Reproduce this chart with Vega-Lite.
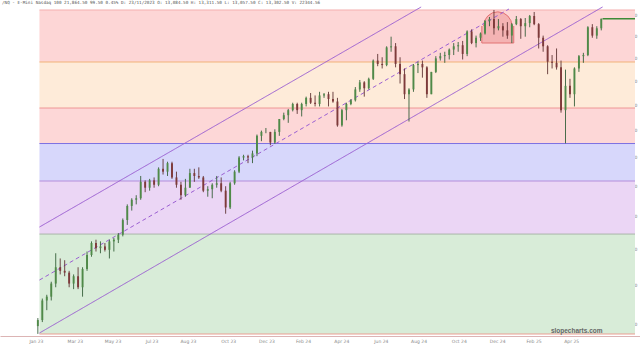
{
"$schema":"https://vega.github.io/schema/vega-lite/v6.json",
"width":640,"height":329,
"autosize":{"type":"none"},
"padding":{"top":7,"bottom":11,"left":0,"right":0},
"background":"#ffffff",
"config":{"view":{"stroke":null}},
"title":{"text":"/NQ - E-Mini Nasdaq 100 21,864.50 99.50 0.45% D: 23/11/2023 O: 13,084.50 H: 13,311.50 L: 13,057.50 C: 13,302.50 V: 22344.56","anchor":"start","frame":"group","fontSize":4.3,"font":"DejaVu Sans Mono","fontWeight":"normal","color":"#555555","offset":1,"dx":2},
"datasets":{
"bands":[
{"from":"2023-01-06T12:00:00Z","to":"2025-07-26T19:00:00Z","hi":22299,"lo":19837,"k":"a"},
{"from":"2023-01-06T12:00:00Z","to":"2025-07-26T19:00:00Z","hi":19837,"lo":17886,"k":"b"},
{"from":"2023-01-06T12:00:00Z","to":"2025-07-26T19:00:00Z","hi":17886,"lo":16513,"k":"c"},
{"from":"2023-01-06T12:00:00Z","to":"2025-07-26T19:00:00Z","hi":16513,"lo":15177,"k":"d"},
{"from":"2023-01-06T12:00:00Z","to":"2025-07-26T19:00:00Z","hi":15177,"lo":13470,"k":"e"},
{"from":"2023-01-06T12:00:00Z","to":"2025-07-26T19:00:00Z","hi":13470,"lo":10757,"k":"f"}
],
"levels":[
{"from":"2023-01-06T12:00:00Z","to":"2025-07-26T19:00:00Z","v":22299,"k":"l0"},
{"from":"2023-01-06T12:00:00Z","to":"2025-07-26T19:00:00Z","v":19837,"k":"l1"},
{"from":"2023-01-06T12:00:00Z","to":"2025-07-26T19:00:00Z","v":17886,"k":"l2"},
{"from":"2023-01-06T12:00:00Z","to":"2025-07-26T19:00:00Z","v":16513,"k":"l3"},
{"from":"2023-01-06T12:00:00Z","to":"2025-07-26T19:00:00Z","v":15177,"k":"l4"},
{"from":"2023-01-06T12:00:00Z","to":"2025-07-26T19:00:00Z","v":13470,"k":"l5"},
{"from":"2023-01-06T12:00:00Z","to":"2025-07-26T19:00:00Z","v":10757,"k":"l6"}
],
"dome":[{"d":"2024-12-24","p":21510}],
"hlrect":[{"from":"2024-11-29","to":"2025-01-18","hi":21510,"lo":20703}],
"segments":[
{"s":"hl","x1":"2024-11-29","x2":"2024-11-29","y1":20703,"y2":21510},
{"s":"hl","x1":"2025-01-18","x2":"2025-01-18","y1":20703,"y2":21510},
{"s":"hl","x1":"2024-11-29","x2":"2025-01-18","y1":20703,"y2":20703}
],
"channel":[
{"s":"upper","x1":"2023-01-06T12:00:00Z","y1":13684,"x2":"2024-08-26T00:00:00Z","y2":22450},
{"s":"lower","x1":"2023-01-06T12:00:00Z","y1":10781,"x2":"2025-06-06T00:00:00Z","y2":22450},
{"s":"mid","x1":"2023-01-06T12:00:00Z","y1":12146,"x2":"2025-01-10T12:00:00Z","y2":22349}
],
"last":[{"from":"2025-06-06","to":"2025-07-26T19:00:00Z","p":21864.5}],
"candles":[
{"d":"2023-01-04","o":10950,"h":11150,"l":10760,"c":11100},
{"d":"2023-01-11","o":11100,"h":11650,"l":11050,"c":11600},
{"d":"2023-01-18","o":11600,"h":11750,"l":11350,"c":11700},
{"d":"2023-01-25","o":11700,"h":12100,"l":11600,"c":12050},
{"d":"2023-02-01","o":12050,"h":12900,"l":11950,"c":12500},
{"d":"2023-02-08","o":12500,"h":12750,"l":12300,"c":12400},
{"d":"2023-02-15","o":12400,"h":12700,"l":12250,"c":12350},
{"d":"2023-02-22","o":12350,"h":12400,"l":11950,"c":12050},
{"d":"2023-03-01","o":12050,"h":12300,"l":11900,"c":12250},
{"d":"2023-03-08","o":12250,"h":12500,"l":11900,"c":11950},
{"d":"2023-03-15","o":11950,"h":12500,"l":11700,"c":12450},
{"d":"2023-03-22","o":12450,"h":12950,"l":12400,"c":12850},
{"d":"2023-03-29","o":12850,"h":13250,"l":12800,"c":13200},
{"d":"2023-04-05","o":13200,"h":13300,"l":12950,"c":13050},
{"d":"2023-04-12","o":13050,"h":13250,"l":12900,"c":13100},
{"d":"2023-04-19","o":13100,"h":13200,"l":12950,"c":13000},
{"d":"2023-04-26","o":13000,"h":13300,"l":12750,"c":13250},
{"d":"2023-05-03","o":13250,"h":13350,"l":12950,"c":13300},
{"d":"2023-05-10","o":13300,"h":13500,"l":13200,"c":13450},
{"d":"2023-05-17","o":13450,"h":13950,"l":13400,"c":13900},
{"d":"2023-05-24","o":13900,"h":14400,"l":13750,"c":14350},
{"d":"2023-05-31","o":14350,"h":14600,"l":14200,"c":14550},
{"d":"2023-06-07","o":14550,"h":14700,"l":14400,"c":14600},
{"d":"2023-06-14","o":14600,"h":15350,"l":14550,"c":15150},
{"d":"2023-06-21","o":15150,"h":15200,"l":14800,"c":14950},
{"d":"2023-06-28","o":14950,"h":15250,"l":14850,"c":15200},
{"d":"2023-07-05","o":15200,"h":15300,"l":14950,"c":15050},
{"d":"2023-07-12","o":15050,"h":15650,"l":15000,"c":15600},
{"d":"2023-07-19","o":15600,"h":15950,"l":15400,"c":15500},
{"d":"2023-07-26","o":15500,"h":15850,"l":15350,"c":15800},
{"d":"2023-08-02","o":15800,"h":15850,"l":15250,"c":15300},
{"d":"2023-08-09","o":15300,"h":15500,"l":14950,"c":15050},
{"d":"2023-08-16","o":15050,"h":15150,"l":14550,"c":14700},
{"d":"2023-08-23","o":14700,"h":15250,"l":14650,"c":14950},
{"d":"2023-08-30","o":14950,"h":15600,"l":14950,"c":15450},
{"d":"2023-09-06","o":15450,"h":15600,"l":15150,"c":15350},
{"d":"2023-09-13","o":15350,"h":15650,"l":15250,"c":15300},
{"d":"2023-09-20","o":15300,"h":15350,"l":14800,"c":14850},
{"d":"2023-09-27","o":14850,"h":15000,"l":14650,"c":14900},
{"d":"2023-10-04","o":14900,"h":15100,"l":14600,"c":15050},
{"d":"2023-10-11","o":15050,"h":15350,"l":14950,"c":15100},
{"d":"2023-10-18","o":15100,"h":15300,"l":14800,"c":14850},
{"d":"2023-10-25","o":14850,"h":15000,"l":14100,"c":14300},
{"d":"2023-11-01","o":14300,"h":15150,"l":14250,"c":15100},
{"d":"2023-11-08","o":15100,"h":15550,"l":15050,"c":15500},
{"d":"2023-11-15","o":15500,"h":16050,"l":15450,"c":16000},
{"d":"2023-11-22","o":16000,"h":16100,"l":15900,"c":16050},
{"d":"2023-11-29","o":16050,"h":16100,"l":15800,"c":16000},
{"d":"2023-12-06","o":16000,"h":16250,"l":15800,"c":16150},
{"d":"2023-12-13","o":16150,"h":16850,"l":16050,"c":16800},
{"d":"2023-12-20","o":16800,"h":17000,"l":16600,"c":16950},
{"d":"2023-12-27","o":16950,"h":17100,"l":16900,"c":16950},
{"d":"2024-01-03","o":16950,"h":16950,"l":16450,"c":16550},
{"d":"2024-01-10","o":16550,"h":17050,"l":16500,"c":16950},
{"d":"2024-01-17","o":16950,"h":17450,"l":16800,"c":17450},
{"d":"2024-01-24","o":17450,"h":17700,"l":17400,"c":17600},
{"d":"2024-01-31","o":17600,"h":17850,"l":17300,"c":17800},
{"d":"2024-02-07","o":17800,"h":18100,"l":17750,"c":18050},
{"d":"2024-02-14","o":18050,"h":18100,"l":17650,"c":17800},
{"d":"2024-02-21","o":17800,"h":18100,"l":17550,"c":18050},
{"d":"2024-02-28","o":18050,"h":18350,"l":17950,"c":18300},
{"d":"2024-03-06","o":18300,"h":18500,"l":18050,"c":18100},
{"d":"2024-03-13","o":18100,"h":18400,"l":17950,"c":18050},
{"d":"2024-03-20","o":18050,"h":18550,"l":17950,"c":18400},
{"d":"2024-03-27","o":18400,"h":18500,"l":18300,"c":18450},
{"d":"2024-04-03","o":18450,"h":18550,"l":17950,"c":18250},
{"d":"2024-04-10","o":18250,"h":18550,"l":18100,"c":18150},
{"d":"2024-04-17","o":18150,"h":18300,"l":17150,"c":17200},
{"d":"2024-04-24","o":17200,"h":17850,"l":17150,"c":17800},
{"d":"2024-05-01","o":17800,"h":18100,"l":17400,"c":18050},
{"d":"2024-05-08","o":18050,"h":18250,"l":18000,"c":18200},
{"d":"2024-05-15","o":18200,"h":18750,"l":18150,"c":18650},
{"d":"2024-05-22","o":18650,"h":19050,"l":18550,"c":18950},
{"d":"2024-05-29","o":18950,"h":19000,"l":18350,"c":18700},
{"d":"2024-06-05","o":18700,"h":19150,"l":18650,"c":19100},
{"d":"2024-06-12","o":19100,"h":19950,"l":19050,"c":19900},
{"d":"2024-06-19","o":19900,"h":20200,"l":19650,"c":19750},
{"d":"2024-06-26","o":19750,"h":20050,"l":19550,"c":19700},
{"d":"2024-07-03","o":19700,"h":20550,"l":19650,"c":20500},
{"d":"2024-07-10","o":20500,"h":21000,"l":20300,"c":20550},
{"d":"2024-07-17","o":20550,"h":20700,"l":19600,"c":19750},
{"d":"2024-07-24","o":19750,"h":20050,"l":18900,"c":19300},
{"d":"2024-07-31","o":19300,"h":19550,"l":18250,"c":18450},
{"d":"2024-08-07","o":18450,"h":18700,"l":17350,"c":18650},
{"d":"2024-08-14","o":18650,"h":19750,"l":18550,"c":19700},
{"d":"2024-08-21","o":19700,"h":19850,"l":19350,"c":19750},
{"d":"2024-08-28","o":19750,"h":19900,"l":19150,"c":19600},
{"d":"2024-09-04","o":19600,"h":19650,"l":18300,"c":18450},
{"d":"2024-09-11","o":18450,"h":19400,"l":18450,"c":19400},
{"d":"2024-09-18","o":19400,"h":20100,"l":19350,"c":20000},
{"d":"2024-09-25","o":20000,"h":20250,"l":19900,"c":20100},
{"d":"2024-10-02","o":20100,"h":20300,"l":19800,"c":20150},
{"d":"2024-10-09","o":20150,"h":20450,"l":19950,"c":20400},
{"d":"2024-10-16","o":20400,"h":20700,"l":20150,"c":20550},
{"d":"2024-10-23","o":20550,"h":20750,"l":20300,"c":20600},
{"d":"2024-10-30","o":20600,"h":20800,"l":19950,"c":20200},
{"d":"2024-11-06","o":20200,"h":21300,"l":20100,"c":21250},
{"d":"2024-11-13","o":21250,"h":21350,"l":20650,"c":20700},
{"d":"2024-11-20","o":20700,"h":21050,"l":20500,"c":20950},
{"d":"2024-11-27","o":20950,"h":21200,"l":20800,"c":21150},
{"d":"2024-12-04","o":21150,"h":21800,"l":21100,"c":21750},
{"d":"2024-12-11","o":21750,"h":21950,"l":21500,"c":21850},
{"d":"2024-12-18","o":21850,"h":22299,"l":21100,"c":21400},
{"d":"2024-12-25","o":21400,"h":21850,"l":21300,"c":21500},
{"d":"2025-01-01","o":21500,"h":21650,"l":21000,"c":21300},
{"d":"2025-01-08","o":21300,"h":21700,"l":20900,"c":21050},
{"d":"2025-01-15","o":21050,"h":21650,"l":20700,"c":21600},
{"d":"2025-01-22","o":21600,"h":22000,"l":21550,"c":21850},
{"d":"2025-01-29","o":21850,"h":21900,"l":20900,"c":21500},
{"d":"2025-02-05","o":21500,"h":21900,"l":21000,"c":21650},
{"d":"2025-02-12","o":21650,"h":22050,"l":21450,"c":22000},
{"d":"2025-02-19","o":22000,"h":22200,"l":21550,"c":21600},
{"d":"2025-02-26","o":21600,"h":21650,"l":20450,"c":20950},
{"d":"2025-03-05","o":20950,"h":21050,"l":20300,"c":20550},
{"d":"2025-03-12","o":20550,"h":20600,"l":19300,"c":19850},
{"d":"2025-03-19","o":19850,"h":20150,"l":19550,"c":19800},
{"d":"2025-03-26","o":19800,"h":20450,"l":19500,"c":19600},
{"d":"2025-04-02","o":19600,"h":19900,"l":17700,"c":17800},
{"d":"2025-04-09","o":17800,"h":19500,"l":16520,"c":18800},
{"d":"2025-04-16","o":18800,"h":19100,"l":18300,"c":18450},
{"d":"2025-04-23","o":18450,"h":19600,"l":17950,"c":19550},
{"d":"2025-04-30","o":19550,"h":20150,"l":19400,"c":20100},
{"d":"2025-05-07","o":20100,"h":20250,"l":19800,"c":20150},
{"d":"2025-05-14","o":20150,"h":21500,"l":20100,"c":21450},
{"d":"2025-05-21","o":21450,"h":21600,"l":20950,"c":21050},
{"d":"2025-05-28","o":21050,"h":21500,"l":20900,"c":21400},
{"d":"2025-06-04","o":21400,"h":21870,"l":21300,"c":21864.5}
]
},
"layer":[
{"data":{"name":"bands"},"mark":{"type":"rect"},
"encoding":{
"x":{"field":"from","type":"temporal","title":null,
"scale":{"type":"utc","domain":[{"year":2022,"month":11,"date":13,"hours":14,"utc":true},{"year":2025,"month":7,"date":26,"hours":19,"utc":true}]},
"axis":{"values":[{"year":2023,"month":1,"date":1,"utc":true},{"year":2023,"month":3,"date":3,"utc":true},{"year":2023,"month":5,"date":1,"utc":true},{"year":2023,"month":7,"date":1,"utc":true},{"year":2023,"month":8,"date":27,"utc":true},{"year":2023,"month":10,"date":29,"utc":true},{"year":2023,"month":12,"date":28,"utc":true},{"year":2024,"month":2,"date":23,"utc":true},{"year":2024,"month":4,"date":23,"utc":true},{"year":2024,"month":6,"date":24,"utc":true},{"year":2024,"month":8,"date":22,"utc":true},{"year":2024,"month":10,"date":24,"utc":true},{"year":2024,"month":12,"date":23,"utc":true},{"year":2025,"month":2,"date":18,"utc":true},{"year":2025,"month":4,"date":18,"utc":true}],
"labelExpr":"utcFormat(datum.value, '%b %y')","labelFontSize":4.5,"labelColor":"#8a8a8a","labelFont":"DejaVu Sans","ticks":false,"grid":false,"domain":true,"domainColor":"#dcb4b4","labelPadding":2,"labelOverlap":false,"labelFlush":false,"title":null}},
"x2":{"field":"to"},
"y":{"field":"hi","type":"quantitative","title":null,
"scale":{"type":"log","domain":[10709,22450],"nice":false,"zero":false},
"axis":{"orient":"right","offset":-3,"values":[11000,12000,13000,14000,15000,16000,17000,18000,19000,20000,21000,22000],"format":"d","labelAlign":"right","labelFontSize":4.5,"labelColor":"#7a7a7a","labelFont":"DejaVu Sans","ticks":false,"tickSize":0,"grid":false,"domain":false,"labelPadding":0,"labelOverlap":false,"labelFlush":false,"title":null}},
"y2":{"field":"lo"},
"fill":{"field":"k","type":"nominal","legend":null,"scale":{"domain":["a","b","c","d","e","f"],"range":["#fdd6d6","#feebd9","#fdd7d7","#d7d7fb","#ebd6f5","#d8ecd8"]}}
}},
{"data":{"name":"levels"},"mark":{"type":"rule","strokeWidth":1},
"encoding":{
"x":{"field":"from","type":"temporal","title":null,"scale":{"type":"utc","domain":[{"year":2022,"month":11,"date":13,"hours":14,"utc":true},{"year":2025,"month":7,"date":26,"hours":19,"utc":true}]}},
"x2":{"field":"to"},
"y":{"field":"v","type":"quantitative","title":null,"scale":{"type":"log","domain":[10709,22450],"nice":false,"zero":false}},
"stroke":{"field":"k","type":"nominal","legend":null,"scale":{"domain":["l0","l1","l2","l3","l4","l5","l6"],"range":["#f4b0b0","#f2b27a","#ef9696","#7d70e2","#b48ddb","#aab7aa","#eb9e92"]}}
}},
{"data":{"name":"dome"},"mark":{"type":"point","shape":"circle","filled":true,"size":804,"fill":"#f4b3b3","stroke":"#e27272","strokeWidth":1,"opacity":1},
"encoding":{
"x":{"field":"d","type":"temporal","title":null,"scale":{"type":"utc","domain":[{"year":2022,"month":11,"date":13,"hours":14,"utc":true},{"year":2025,"month":7,"date":26,"hours":19,"utc":true}]}},
"y":{"field":"p","type":"quantitative","title":null,"scale":{"type":"log","domain":[10709,22450],"nice":false,"zero":false}}
}},
{"data":{"name":"hlrect"},"mark":{"type":"rect","fill":"#f4b3b3"},
"encoding":{
"x":{"field":"from","type":"temporal","title":null,"scale":{"type":"utc","domain":[{"year":2022,"month":11,"date":13,"hours":14,"utc":true},{"year":2025,"month":7,"date":26,"hours":19,"utc":true}]}},
"x2":{"field":"to"},
"y":{"field":"hi","type":"quantitative","title":null,"scale":{"type":"log","domain":[10709,22450],"nice":false,"zero":false}},
"y2":{"field":"lo"}
}},
{"data":{"name":"segments"},"mark":{"type":"rule","stroke":"#e27272","strokeWidth":1},
"encoding":{
"x":{"field":"x1","type":"temporal","title":null,"scale":{"type":"utc","domain":[{"year":2022,"month":11,"date":13,"hours":14,"utc":true},{"year":2025,"month":7,"date":26,"hours":19,"utc":true}]}},
"x2":{"field":"x2"},
"y":{"field":"y1","type":"quantitative","title":null,"scale":{"type":"log","domain":[10709,22450],"nice":false,"zero":false}},
"y2":{"field":"y2"}
}},
{"data":{"name":"channel"},"mark":{"type":"rule","stroke":"#9b5fd2","strokeWidth":1},
"encoding":{
"x":{"field":"x1","type":"temporal","title":null,"scale":{"type":"utc","domain":[{"year":2022,"month":11,"date":13,"hours":14,"utc":true},{"year":2025,"month":7,"date":26,"hours":19,"utc":true}]}},
"x2":{"field":"x2"},
"y":{"field":"y1","type":"quantitative","title":null,"scale":{"type":"log","domain":[10709,22450],"nice":false,"zero":false}},
"y2":{"field":"y2"},
"strokeDash":{"condition":{"test":"datum.s === 'mid'","value":[4,3]},"value":[1,0]}
}},
{"data":{"name":"candles"},"mark":{"type":"rule","strokeWidth":0.9},
"encoding":{
"x":{"field":"d","type":"temporal","title":null,"scale":{"type":"utc","domain":[{"year":2022,"month":11,"date":13,"hours":14,"utc":true},{"year":2025,"month":7,"date":26,"hours":19,"utc":true}]}},
"y":{"field":"l","type":"quantitative","title":null,"scale":{"type":"log","domain":[10709,22450],"nice":false,"zero":false}},
"y2":{"field":"h"},
"color":{"condition":{"test":"datum.c >= datum.o","value":"#35603a"},"value":"#603434"}
}},
{"data":{"name":"candles"},"mark":{"type":"bar","size":1.9},
"encoding":{
"x":{"field":"d","type":"temporal","title":null,"scale":{"type":"utc","domain":[{"year":2022,"month":11,"date":13,"hours":14,"utc":true},{"year":2025,"month":7,"date":26,"hours":19,"utc":true}]}},
"y":{"field":"o","type":"quantitative","title":null,"scale":{"type":"log","domain":[10709,22450],"nice":false,"zero":false}},
"y2":{"field":"c"},
"color":{"condition":{"test":"datum.c >= datum.o","value":"#4f8a48"},"value":"#7e3a3a"}
}},
{"data":{"name":"last"},"mark":{"type":"rule","stroke":"#3d8b37","strokeWidth":1.5},
"encoding":{
"x":{"field":"from","type":"temporal","title":null,"scale":{"type":"utc","domain":[{"year":2022,"month":11,"date":13,"hours":14,"utc":true},{"year":2025,"month":7,"date":26,"hours":19,"utc":true}]}},
"x2":{"field":"to"},
"y":{"field":"p","type":"quantitative","title":null,"scale":{"type":"log","domain":[10709,22450],"nice":false,"zero":false}}
}},
{"data":{"values":[{"t":"slopecharts.com"}]},"mark":{"type":"text","align":"right","baseline":"alphabetic","font":"Liberation Sans","fontSize":6.5,"fontWeight":"bold","color":"#666666"},
"encoding":{
"x":{"datum":{"year":2025,"month":6,"date":6,"utc":true},"type":"temporal","scale":{"type":"utc","domain":[{"year":2022,"month":11,"date":13,"hours":14,"utc":true},{"year":2025,"month":7,"date":26,"hours":19,"utc":true}]}},
"y":{"datum":10781,"type":"quantitative","scale":{"type":"log","domain":[10709,22450],"nice":false,"zero":false}},
"text":{"field":"t"}
}}
]
}
